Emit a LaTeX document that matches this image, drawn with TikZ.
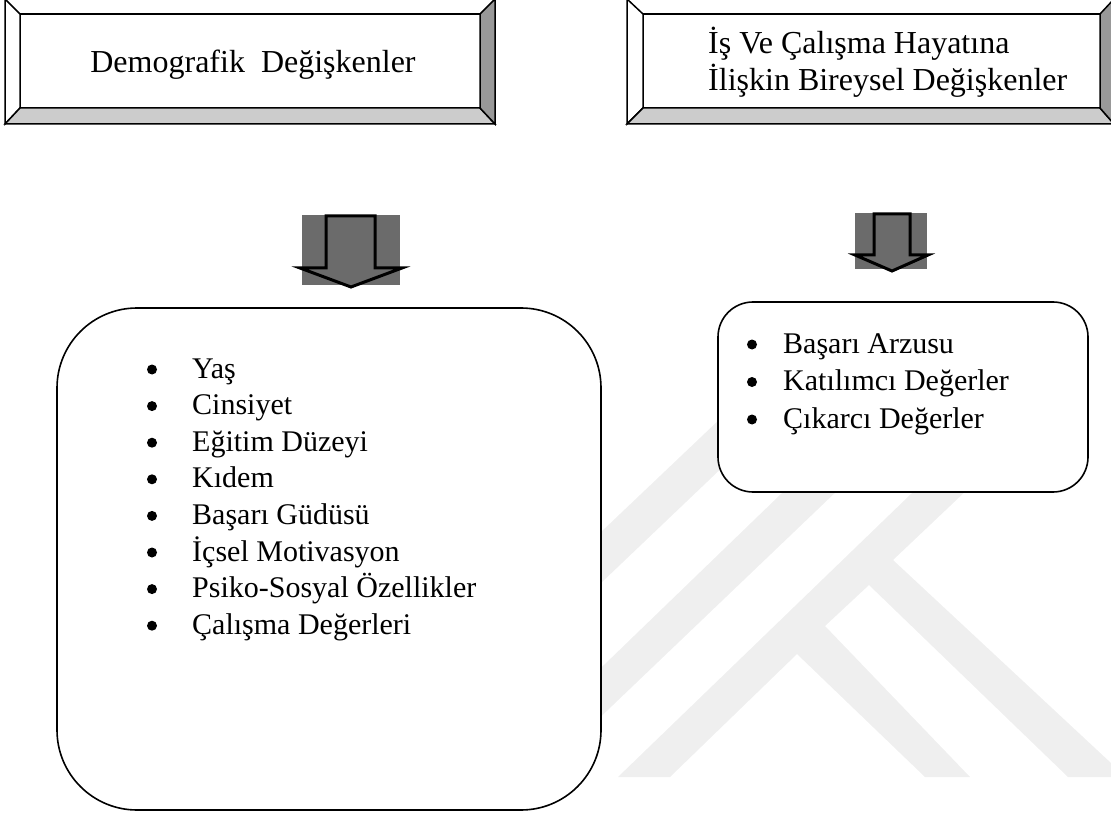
\documentclass[tikz,border=0pt]{standalone}
\usepackage{fontspec}
\setmainfont{Liberation Serif}
\usepackage{tikz}
\usetikzlibrary{positioning}
\definecolor{bevelDark}{HTML}{999999}
\definecolor{bevelLight}{HTML}{CCCCCC}
\definecolor{arrowGray}{HTML}{6B6B6B}
\definecolor{markGray}{HTML}{EFEFEF}

\begin{document}
\begin{tikzpicture}[x=1pt, y=-1pt, line join=miter,
            every node/.style={font=\fontsize{30}{37.5}\selectfont, inner sep=0pt}]
            \tikzstyle{panelLine} = [draw=black, line width=1.5pt]
            \tikzstyle{titleText} = [font=\fontsize{32}{37.5}\selectfont]
            \tikzstyle{listBox} = [draw=black, line width=1.6pt, fill=white]
            \tikzstyle{itemText} = [anchor=base west]
            \tikzstyle{bulletDot} = [circle, fill=black, minimum size=10pt]
            \tikzstyle{blockArrow} = [fill=arrowGray, draw=black, line width=3pt]
            \useasboundingbox (0,0) rectangle (1111,818);
            % faint logo in the background
            \fill[markGray] (590,593.5) -- (590,542.5) -- (761,380) -- (814,380) -- cycle;
            \fill[markGray] (590,727) -- (590,678.5) -- (899,380) -- (953,380) -- cycle;
            \fill[markGray] (618,777) -- (1029,380) -- (1083,380) -- (893,560)
                -- (1126,777) -- (1068,777) -- (869,585) -- (825,626)
                -- (970,777) -- (925,777) -- (797,654) -- (670,777) -- cycle;
            % bevelled title panels
            \foreach \xo/\xi/\xj/\xp/\nm in {5/20/480/495/demPanel, 627/643/1100/1114/jobPanel}{
                \fill[white] (\xo,-1) -- (\xp,-1) -- (\xj,14) -- (\xi,14) -- cycle;
                \filldraw[panelLine, fill=white] (\xo,-1) -- (\xi,14) -- (\xi,108) -- (\xo,124) -- cycle;
                \filldraw[panelLine, fill=bevelLight] (\xo,124) -- (\xi,108) -- (\xj,108) -- (\xp,124) -- cycle;
                \filldraw[panelLine, fill=bevelDark] (\xp,-1) -- (\xj,14) -- (\xj,108) -- (\xp,124) -- cycle;
                \draw[panelLine] (\xi,14) -- (\xj,14);
                \coordinate (\nm) at ({(\xi+\xj)/2},61);
            }
            \node[titleText, anchor=base] (demTitle) at (253,73) {Demografik\ \ Değişkenler};
            \node[titleText, anchor=base west, align=left] (jobTitle) at (708,91)
                {İş Ve Çalışma Hayatına\\İlişkin Bireysel Değişkenler};
            % down arrows
            \fill[arrowGray] (302,215) rectangle (400,285);
            \filldraw[blockArrow] (326,216) -- (375,216) -- (375,268) -- (402,268)
                -- (351,287) -- (300,268) -- (326,268) -- cycle;
            \fill[arrowGray] (855,213) rectangle (927,269);
            \filldraw[blockArrow] (874,214) -- (910,214) -- (910,255) -- (928,255)
                -- (892,271) -- (855,255) -- (874,255) -- cycle;
            % list boxes
            \draw[listBox, rounded corners=80pt] (57,308) rectangle (601,810);
            \draw[listBox, rounded corners=35pt] (718,302) rectangle (1088,492);
            \foreach \txt [count=\i] in {Yaş, Cinsiyet, Eğitim Düzeyi, Kıdem, Başarı Güdüsü,
                                         İçsel Motivasyon, Psiko-Sosyal Özellikler, Çalışma Değerleri}{
                \node[itemText] (demItem\i) at (192,{378+36.6*(\i-1)}) {\txt};
                \node[bulletDot] (demDot\i) at (152,{369.5+36.6*(\i-1)}) {};
            }
            \foreach \txt [count=\i] in {Başarı Arzusu, Katılımcı Değerler, Çıkarcı Değerler}{
                \node[itemText] (jobItem\i) at (783,{353+37.5*(\i-1)}) {\txt};
                \node[bulletDot] (jobDot\i) at (752,{344.5+37.5*(\i-1)}) {};
            }
        \end{tikzpicture}
\end{document}
